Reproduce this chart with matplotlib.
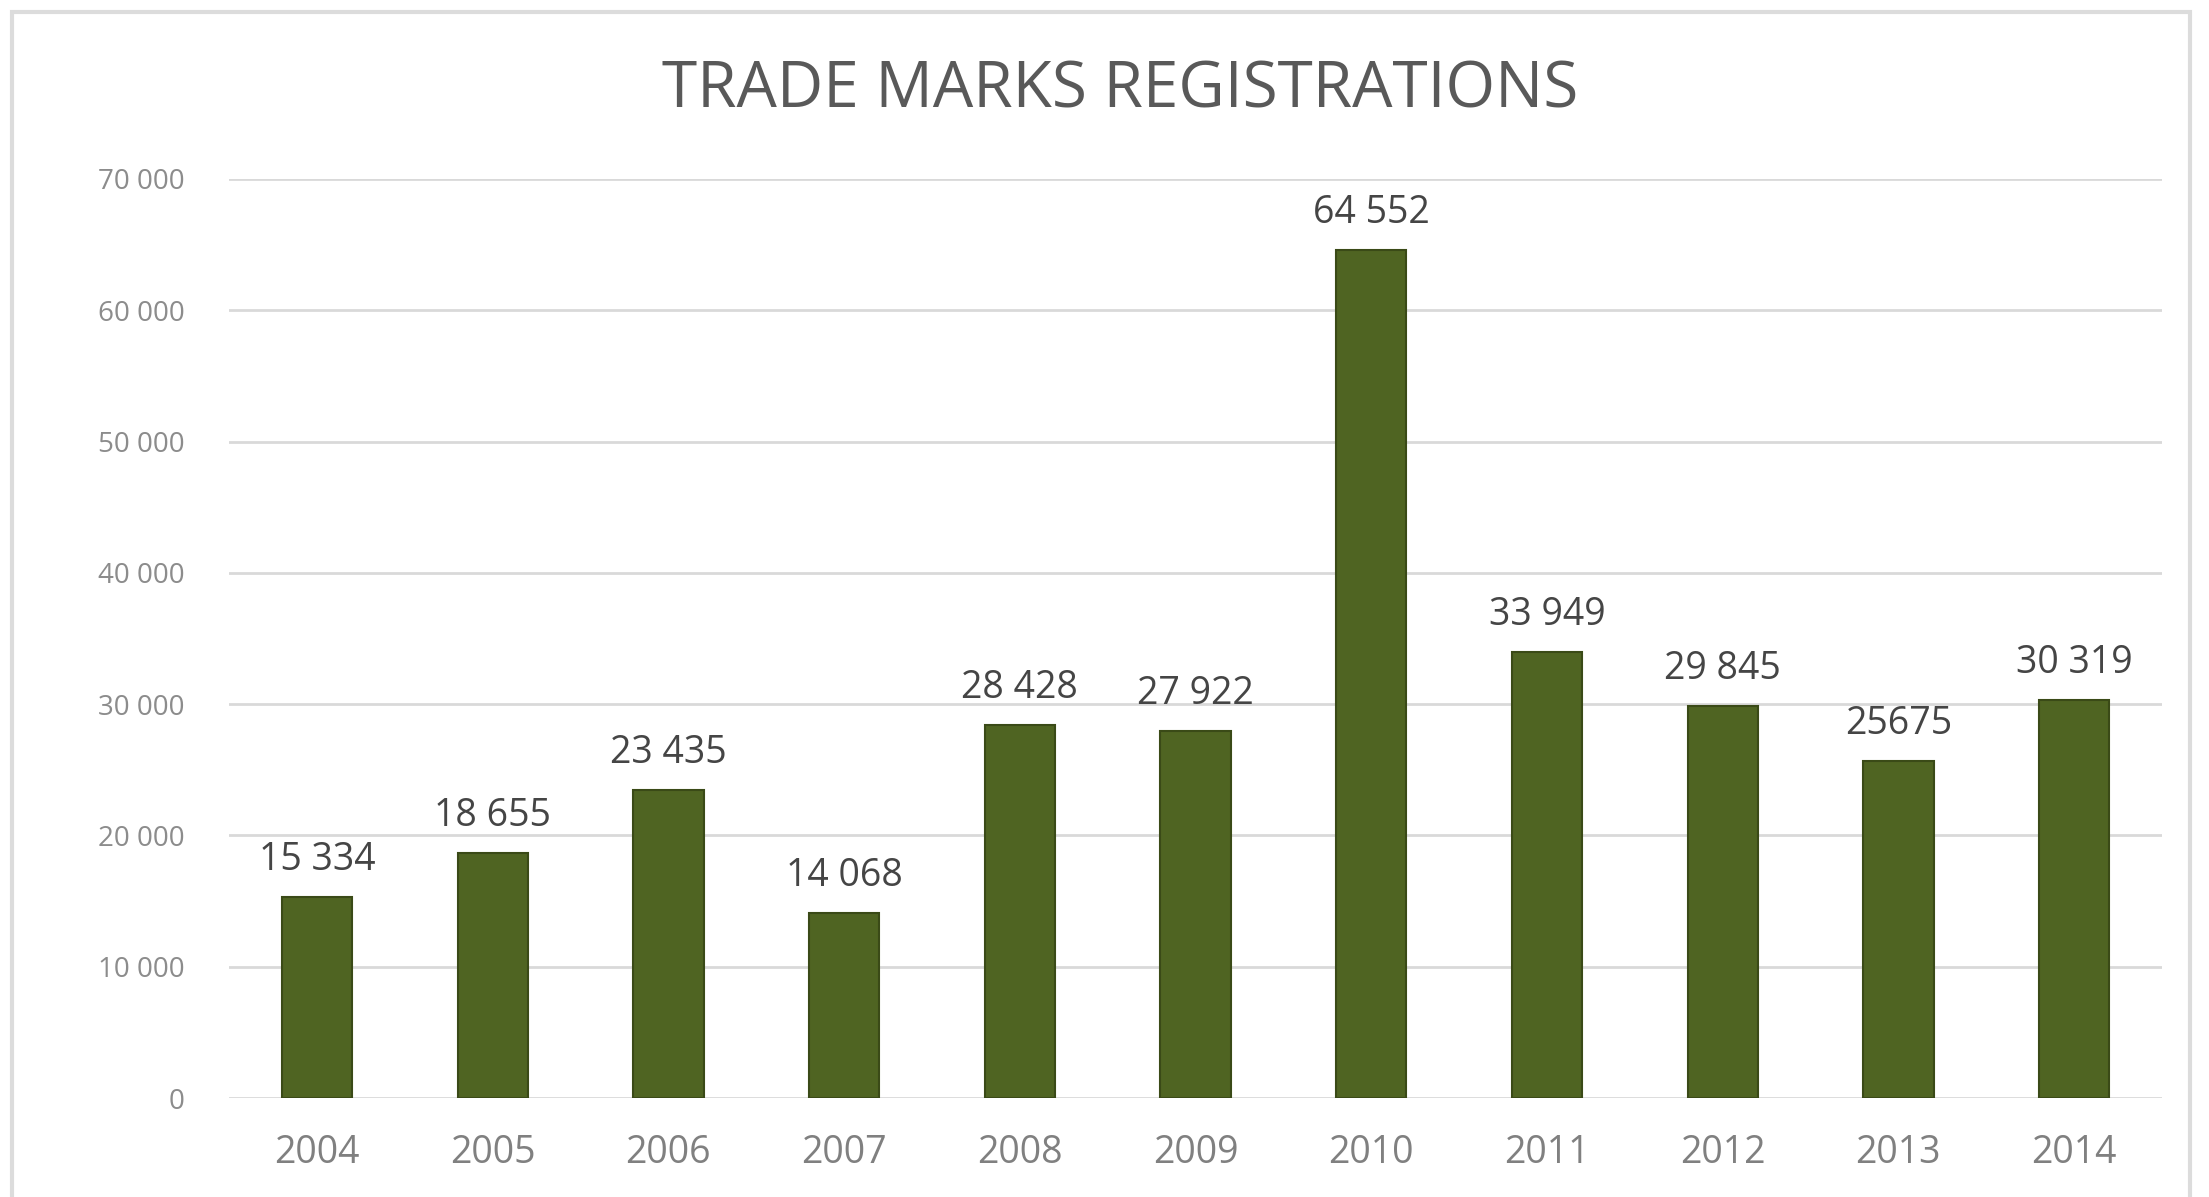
import numpy as np
import matplotlib.pyplot as plt

# Trade mark registrations per year
years = ['2004', '2005', '2006', '2007', '2008', '2009',
         '2010', '2011', '2012', '2013', '2014']
registrations = [15334, 18655, 23435, 14068, 28428, 27922,
                 64552, 33949, 29845, 25675, 30319]
value_labels = ['15 334', '18 655', '23 435', '14 068', '28 428', '27 922',
                '64 552', '33 949', '29 845', '25675', '30 319']
y_ticks = [0, 10000, 20000, 30000, 40000, 50000, 60000, 70000]
y_tick_labels = ['0', '10 000', '20 000', '30 000', '40 000',
                 '50 000', '60 000', '70 000']

plt.rcParams['font.family'] = ['Open Sans', 'DejaVu Sans']

fig = plt.figure(figsize=(22.09, 11.97), dpi=100)
ax = fig.add_axes([0.1037, 0.0827, 0.875, 0.7678])

x = np.arange(len(years))
bars = ax.bar(x, registrations, width=0.4, color='#4f6422',
              edgecolor='#3a4a17', linewidth=1.5, zorder=3)
ax.bar_label(bars, labels=value_labels, padding=13, fontsize=27,
             color='#454545')

ax.set_xlim(-0.5, len(years) - 0.5)
ax.set_ylim(0, 70000)
ax.set_xticks(x)
ax.set_xticklabels(years, fontsize=27, color='#808080')
ax.tick_params(axis='x', length=0, pad=26)
ax.set_yticks(y_ticks)
ax.set_yticklabels(y_tick_labels, fontsize=20, color='#8c8c8c')
ax.tick_params(axis='y', length=0, pad=32)

ax.grid(axis='y', color='#d9d9d9', linewidth=2, zorder=0)
ax.set_axisbelow(True)
for side in ['top', 'right', 'left', 'bottom']:
    ax.spines[side].set_visible(False)

fig.text(0.507, 0.924, 'TRADE MARKS REGISTRATIONS', ha='center', va='center',
         fontsize=46, color='#595959')

# thin frame around the chart area
frame = plt.Rectangle((0.0055, -0.01), 0.986, 1.0, transform=fig.transFigure,
                      fill=False, edgecolor='#dcdcdc', linewidth=3)
fig.patches.append(frame)

fig.savefig('out.png', dpi=100, facecolor='white')
